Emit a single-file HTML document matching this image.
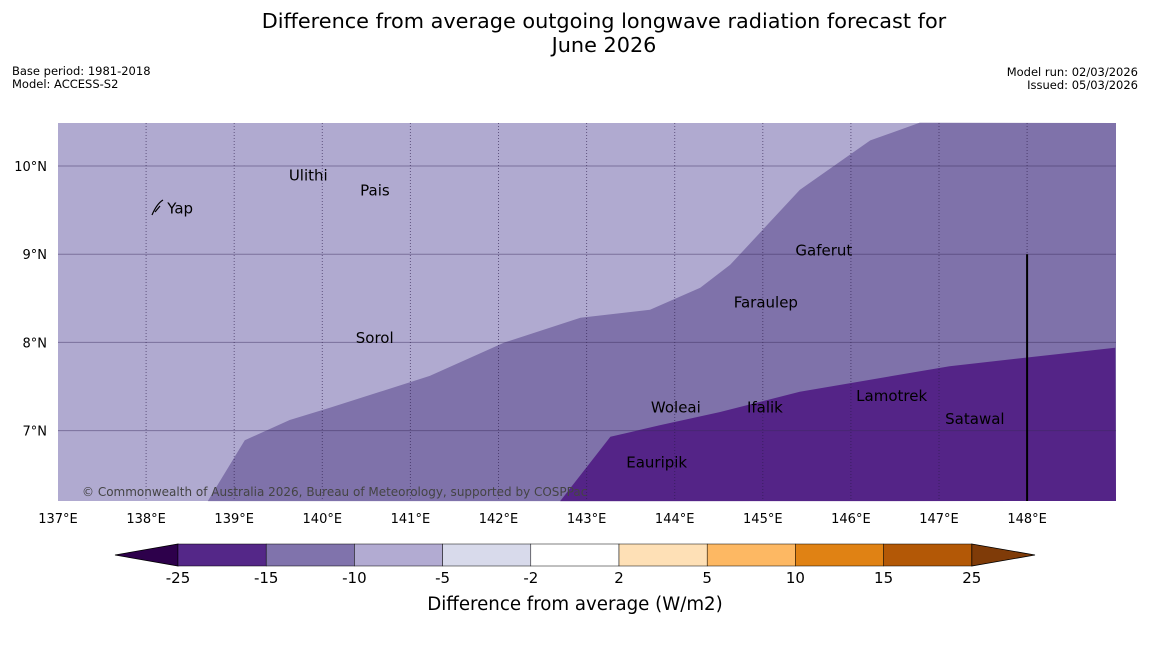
<!DOCTYPE html>
<html><head><meta charset="utf-8"><style>
body{margin:0;background:#fff;width:1150px;height:644px;overflow:hidden;font-family:"DejaVu Sans","Liberation Sans",sans-serif}
</style></head><body>
<svg id="svg" width="1150" height="644" xmlns="http://www.w3.org/2000/svg" font-family="DejaVu Sans, Liberation Sans, sans-serif">
<text x="604" y="28" font-size="20.8" text-anchor="middle">Difference from average outgoing longwave radiation forecast for</text>
<text x="604" y="52" font-size="20.8" text-anchor="middle">June 2026</text>
<text x="12" y="75" font-size="11.5">Base period: 1981-2018</text>
<text x="12" y="88" font-size="11.5">Model: ACCESS-S2</text>
<text x="1138" y="76" font-size="11.5" text-anchor="end">Model run: 02/03/2026</text>
<text x="1138" y="89" font-size="11.5" text-anchor="end">Issued: 05/03/2026</text>
<g id="map"></g>
<g id="cbar"></g>
<text x="575" y="610" font-size="18.2" text-anchor="middle">Difference from average (W/m2)</text>
</svg>
<script>
const lonTicks=[137,138,139,140,141,142,143,144,145,146,147,148];
const latTicks=[7,8,9,10];
const lightMidLon=[138.70,139.12,139.63,140.09,141.22,142.07,142.93,143.72,144.29,144.63,145.42,146.22,146.78];
const lightMidLat=[6.20,6.89,7.12,7.26,7.62,8.00,8.28,8.37,8.62,8.88,9.73,10.29,10.49];
const midDarkLon=[142.70,143.27,143.83,144.51,145.42,147.12,149.0];
const midDarkLat=[6.20,6.93,7.06,7.21,7.44,7.73,7.94];
const placeNames=["Ulithi","Pais","Yap","Gaferut","Faraulep","Sorol","Woleai","Ifalik","Lamotrek","Satawal","Eauripik"];
const placeLon=[139.62,140.43,138.24,145.37,144.67,140.38,143.73,144.82,146.06,147.07,143.45];
const placeLat=[9.89,9.72,9.52,9.04,8.45,8.05,7.26,7.26,7.39,7.13,6.64];
const cbarLevels=["-25","-15","-10","-5","-2","2","5","10","15","25"];
const cbarColors=["#542788","#8073ac","#b2abd2","#d8daeb","#ffffff","#fee0b6","#fdb863","#e08214","#b35806"];
const NS="http://www.w3.org/2000/svg";
const L=58,R=1116,T=123,B=501,lon0=137,lat0=10,dx=88.1,dy=88.2;
const X=lon=>L+(lon-lon0)*dx, Y=lat=>166+(lat0-lat)*dy;
function mk(tag,attrs,parent){const e=document.createElementNS(NS,tag);for(const k in attrs)e.setAttribute(k,attrs[k]);parent.appendChild(e);return e;}
const map=document.getElementById('map');
const bg=mk('rect',{x:L,y:T,width:R-L,height:B-T,fill:'#b0aad0'},map);


let p1=lightMidLon.map((v,i)=>X(v)+','+Y(lightMidLat[i])).join(' ')+` ${R},${T} ${R},${B}`;
const mid=mk('polygon',{points:p1,fill:'#7f72aa'},map);


let p2=midDarkLon.map((v,i)=>X(v)+','+Y(midDarkLat[i])).join(' ')+` ${R},${B}`;
const dark=mk('polygon',{points:p2,fill:'#542487'},map);


lonTicks.forEach(v=>{
  if(v>lon0){const g=mk('line',{x1:X(v),x2:X(v),y1:T,y2:B,stroke:'#2a1a4a',"stroke-opacity":0.6,"stroke-width":1,"stroke-dasharray":"1,2"},map);
  
  }
  const t=mk('text',{x:X(v),y:523,"font-size":13,"text-anchor":"middle"},map);t.textContent=v+'°E';
  
  
});
latTicks.forEach(v=>{
  const g=mk('line',{x1:L,x2:R,y1:Y(v),y2:Y(v),stroke:'#3a2a5a',"stroke-opacity":0.45,"stroke-width":1},map);
  
  
  const t=mk('text',{x:47,y:Y(v)+5,"font-size":13,"text-anchor":"end"},map);t.textContent=v+'°N';
  
  
});
const vl=mk('line',{x1:X(148),x2:X(148),y1:Y(9),y2:B,stroke:'#000',"stroke-width":2},map);


placeNames.forEach((n,i)=>{
  const t=mk('text',{x:X(placeLon[i]),y:Y(placeLat[i])+5,"font-size":15},map);t.textContent=n;
  
  
});
const yi=mk('path',{d:'M152,215 C155,208 158,203 163,200 M155,212 L160,206',stroke:'#000',fill:'none',"stroke-width":1.2},map);


const cr=mk('text',{x:82,y:496,"font-size":12,fill:'#444'},map);cr.textContent='© Commonwealth of Australia 2026, Bureau of Meteorology, supported by COSPPac';


const cb=document.getElementById('cbar');
const c0=178,cw=88.2,cy=544,ch=22;
const lt=mk('polygon',{points:`115,${cy+ch/2} ${c0},${cy} ${c0},${cy+ch}`,fill:'#2d004b',stroke:'#000',"stroke-width":0.8},cb);


cbarColors.forEach((c,i)=>{
  const r=mk('rect',{x:c0+i*cw,y:cy,width:cw,height:ch,fill:c,stroke:'#000',"stroke-width":0.5},cb);
  
  
});
const re=c0+cbarColors.length*cw;
const rt=mk('polygon',{points:`${re},${cy} 1035,${cy+ch/2} ${re},${cy+ch}`,fill:'#7f3b08',stroke:'#000',"stroke-width":0.8},cb);


cbarLevels.forEach((l,i)=>{
  const t=mk('text',{x:c0+i*cw,y:583,"font-size":15,"text-anchor":"middle"},cb);t.textContent=l;
  
  
});
</script>
</body></html>
